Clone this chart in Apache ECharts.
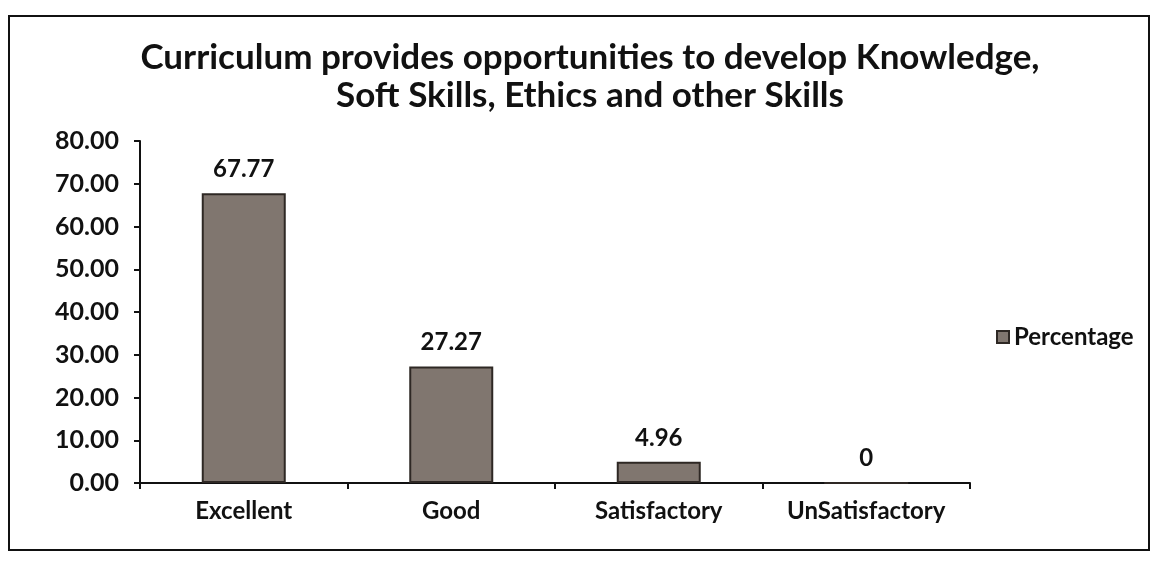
<!DOCTYPE html>
<html>
<head>
<meta charset="utf-8">
<script src="https://cdn.jsdelivr.net/npm/echarts@6/dist/echarts.min.js"></script>
<style>
  html, body { margin: 0; padding: 0; background: #fff; }
  #chart { width: 1158px; height: 565px; }
</style>
</head>
<body>
<div id="chart"></div>
<script>
// data
let categories = ['Excellent', 'Good', 'Satisfactory', 'UnSatisfactory']
let percentage = [67.77, 27.27, 4.96, 0]
let yTicks = [0, 10, 20, 30, 40, 50, 60, 70, 80]

let font = 'Lato, "Open Sans", sans-serif'
let chart = echarts.init(document.getElementById('chart'))
let options = {
  backgroundColor: '#fff',
  animation: false,
  title: {
    text: 'Curriculum provides opportunities to develop Knowledge,\nSoft Skills, Ethics and other Skills',
    left: 585,
    top: 34,
    textAlign: 'center',
    textStyle: {
      fontFamily: font,
      fontSize: 35,
      fontWeight: 'bold',
      color: '#111',
      lineHeight: 38
    }
  },
  legend: {
    data: ['Percentage'],
    left: 991,
    top: 320,
    itemWidth: 12,
    itemHeight: 12,
    itemGap: 6,
    icon: 'rect',
    textStyle: {
      fontFamily: font,
      fontSize: 24,
      fontWeight: 'bold',
      color: '#111'
    }
  },
  grid: {
    left: 140,
    right: 188,
    top: 141,
    bottom: 82
  },
  xAxis: {
    type: 'category',
    data: categories,
    axisLine: { lineStyle: { color: '#111', width: 2 } },
    axisTick: { show: true, length: 6, lineStyle: { color: '#111', width: 2 } },
    axisLabel: {
      fontFamily: font,
      fontSize: 24,
      fontWeight: 'bold',
      color: '#111',
      margin: 16
    }
  },
  yAxis: {
    type: 'value',
    min: yTicks[0],
    max: yTicks[yTicks.length - 1],
    interval: 10,
    splitLine: { show: false },
    axisLine: { show: true, lineStyle: { color: '#111', width: 2 } },
    axisTick: { show: true, length: 6, lineStyle: { color: '#111', width: 2 } },
    axisLabel: {
      fontFamily: font,
      fontSize: 25,
      fontWeight: 'bold',
      color: '#111',
      margin: 21,
      formatter: v => v.toFixed(2)
    }
  },
  series: [{
    name: 'Percentage',
    type: 'bar',
    data: percentage,
    barWidth: 84,
    itemStyle: {
      color: '#80766f',
      borderColor: '#2e2824',
      borderWidth: 2
    },
    label: {
      show: true,
      position: 'top',
      distance: 12,
      fontFamily: font,
      fontSize: 24,
      fontWeight: 'bold',
      color: '#111',
      formatter: p => String(p.value)
    }
  }],
  graphic: [{
    type: 'rect',
    shape: { x: 9, y: 16, width: 1140, height: 534 },
    style: { fill: 'none', stroke: '#111', lineWidth: 2 },
    silent: true
  }]
}
chart.setOption(options)
</script>
</body>
</html>
